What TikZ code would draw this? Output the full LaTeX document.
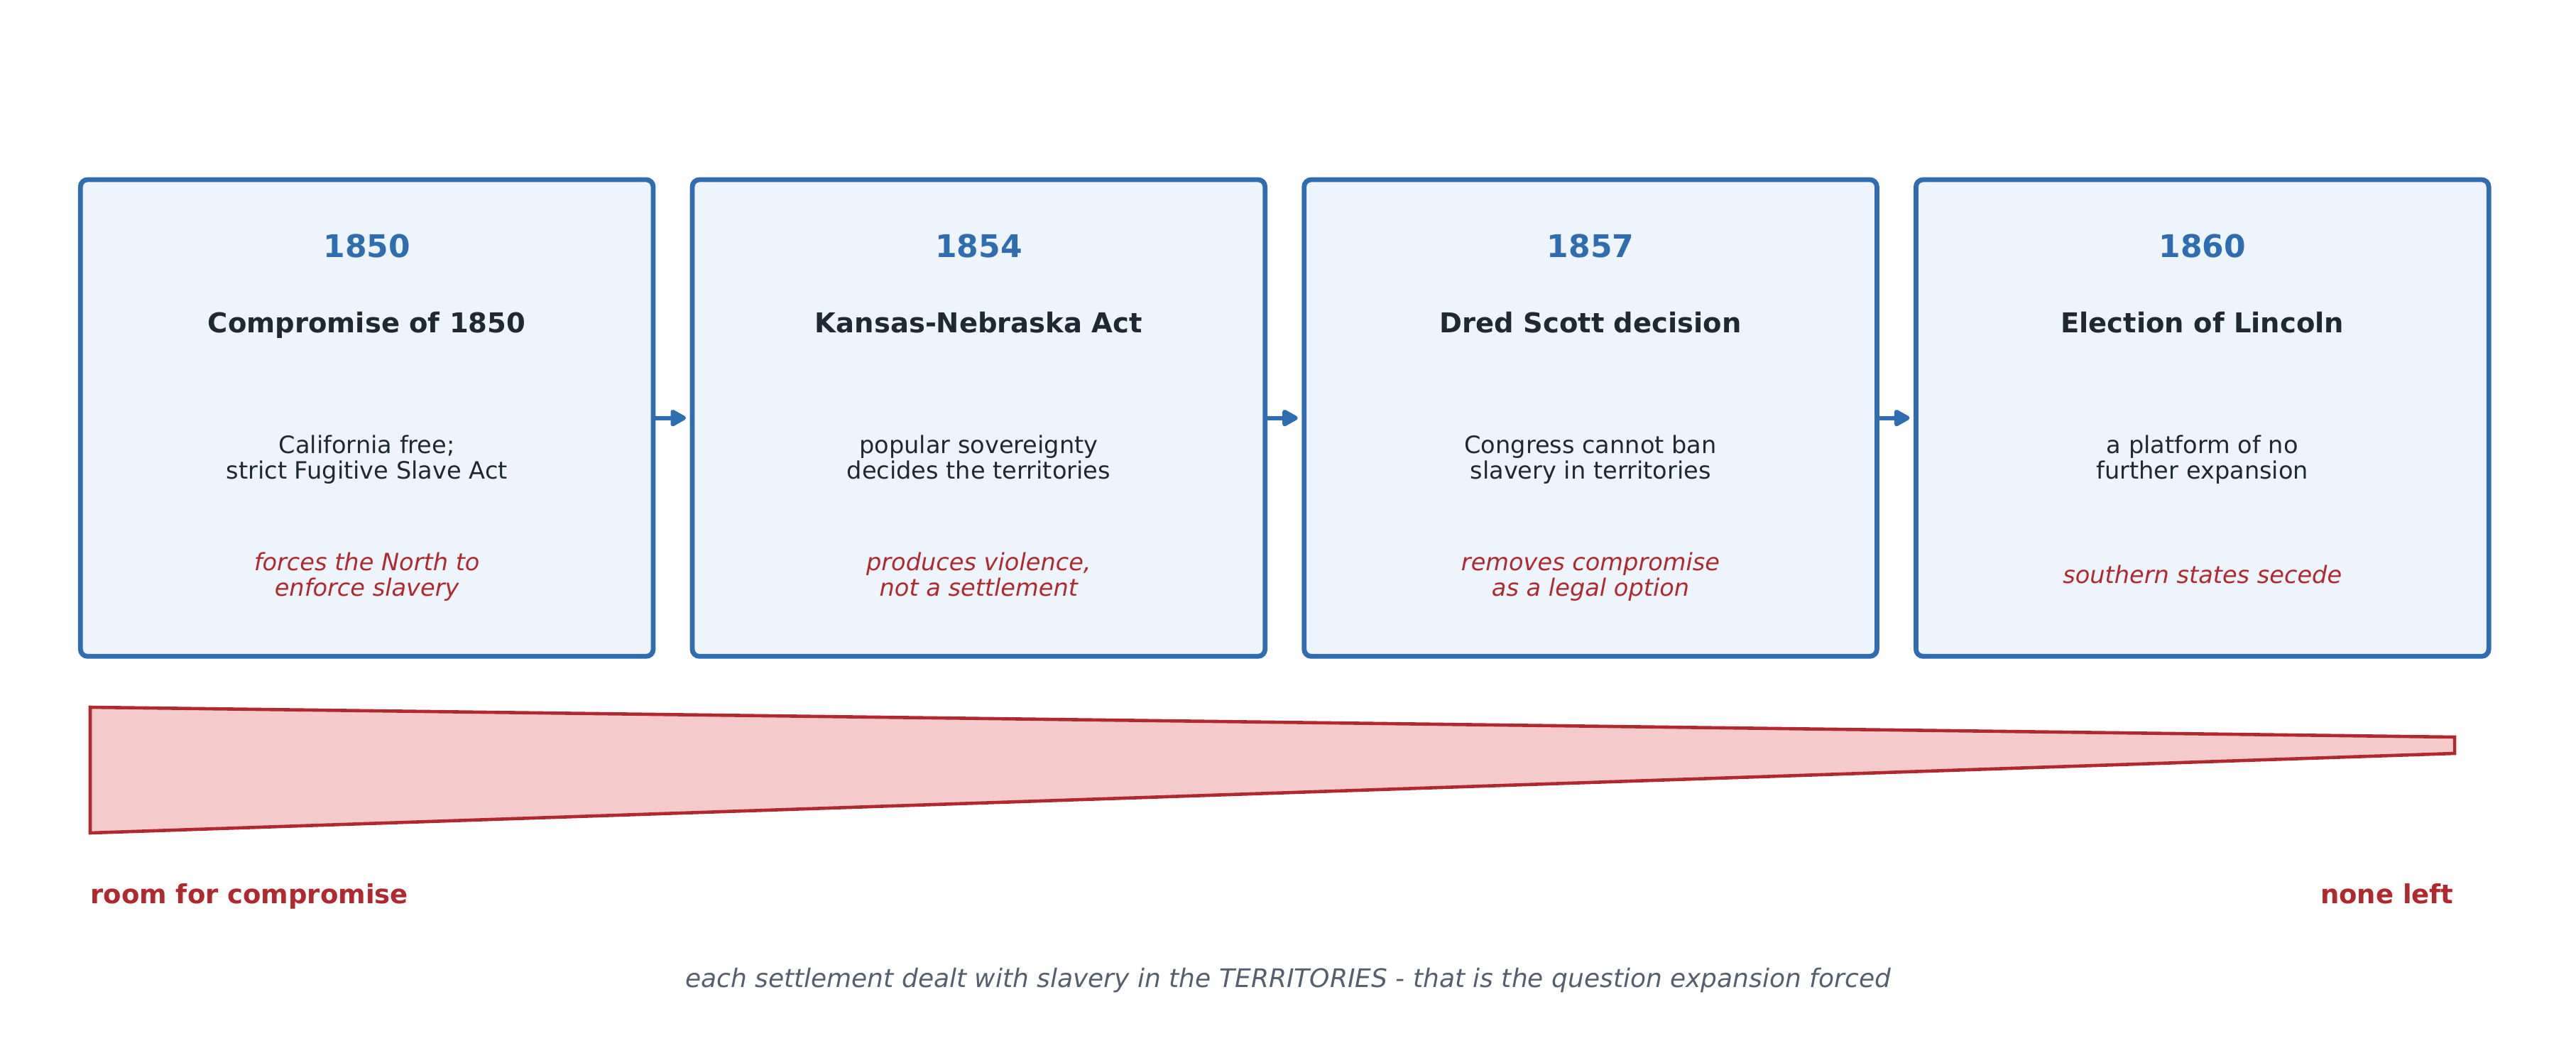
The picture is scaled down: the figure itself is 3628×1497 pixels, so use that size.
\documentclass[tikz,border=0pt]{standalone}
\usepackage{fontspec}
\setmainfont{DejaVu Sans}
\usetikzlibrary{arrows.meta}
\definecolor{boxblue}{HTML}{2E6DB0}
\definecolor{boxfill}{HTML}{EEF4FC}
\definecolor{ink}{HTML}{1F2933}
\definecolor{wred}{HTML}{B0292E}
\definecolor{wfill}{HTML}{F4CACB}
\definecolor{capgray}{HTML}{555F6E}
\begin{document}
\begin{tikzpicture}[x=0.5pt,y=-0.5pt,
  card/.style={draw=boxblue, fill=boxfill, line width=3.4pt, rounded corners=5pt,
    minimum width=403.35pt, minimum height=335.65pt, inner sep=0pt, outer sep=0pt},
  yearlbl/.style={anchor=base, text=boxblue, font=\fontsize{22}{26}\selectfont\bfseries},
  ttl/.style={anchor=base, text=ink, font=\fontsize{19.25}{23}\selectfont\bfseries},
  desc/.style={anchor=base, text=ink, align=center, font=\fontsize{16.8}{17.85}\selectfont},
  effect/.style={anchor=base, text=wred, align=center, font=\fontsize{16.8}{17.7}\selectfont\itshape},
  flow/.style={draw=boxblue, line width=3pt, -{Triangle[length=12.5pt,width=13pt,round]}, shorten >=4.5pt},
  wedgeshape/.style={draw=wred, fill=wfill, line width=2.3pt, line join=miter},
  endlbl/.style={text=wred, inner sep=0pt, font=\fontsize{18.5}{22}\selectfont\bfseries},
  captext/.style={anchor=base, text=capgray, inner sep=0pt, font=\fontsize{18}{22}\selectfont\itshape}
]
\useasboundingbox (0,0) rectangle (3628,1497);

% cards
\node[card] (b1) at (516.65,588.65) {};
\node[card] (b2) at (1378.35,588.65) {};
\node[card] (b3) at (2240.05,588.65) {};
\node[card] (b4) at (3101.75,588.65) {};

% years
\node[yearlbl] (y1) at (516.65,362.7) {1850};
\node[yearlbl] (y2) at (1378.35,362.7) {1854};
\node[yearlbl] (y3) at (2240.05,362.7) {1857};
\node[yearlbl] (y4) at (3101.75,362.7) {1860};

% titles
\node[ttl] (t1) at (516.65,468.3) {Compromise of 1850};
\node[ttl] (t2) at (1378.35,468.3) {Kansas-Nebraska Act};
\node[ttl] (t3) at (2240.05,468.3) {Dred Scott decision};
\node[ttl] (t4) at (3101.75,468.3) {Election of Lincoln};

% descriptions (base anchor = last line's baseline)
\node[desc] (d1) at (516.65,674) {California free;\\strict Fugitive Slave Act};
\node[desc] (d2) at (1378.35,674) {popular sovereignty\\decides the territories};
\node[desc] (d3) at (2240.05,674) {Congress cannot ban\\slavery in territories};
\node[desc] (d4) at (3101.75,674) {a platform of no\\further expansion};

% effects
\node[effect] (e1) at (516.65,839.3) {forces the North to\\enforce slavery};
\node[effect] (e2) at (1378.35,839.3) {produces violence,\\not a settlement};
\node[effect] (e3) at (2240.05,839.3) {removes compromise\\as a legal option};
\node[effect] (e4) at (3101.75,821.7) {southern states secede};

% arrows
\draw[flow] (b1.east) -- (b2.west);
\draw[flow] (b2.east) -- (b3.west);
\draw[flow] (b3.east) -- (b4.west);

% wedge
\coordinate (wtl) at (127,996);
\coordinate (wtr) at (3457,1038);
\coordinate (wbr) at (3457,1061);
\coordinate (wbl) at (127,1173);
\draw[wedgeshape] (wtl) -- (wtr) -- (wbr) -- (wbl) -- cycle;

\node[endlbl, anchor=base west] (lo) at (127,1272.3) {room for compromise};
\node[endlbl, anchor=base east] (hi) at (3456,1272.3) {none left};

\node[captext] (caption) at (1814,1390.7) {each settlement dealt with slavery in the TERRITORIES - that is the question expansion forced};
\end{tikzpicture}
\end{document}
